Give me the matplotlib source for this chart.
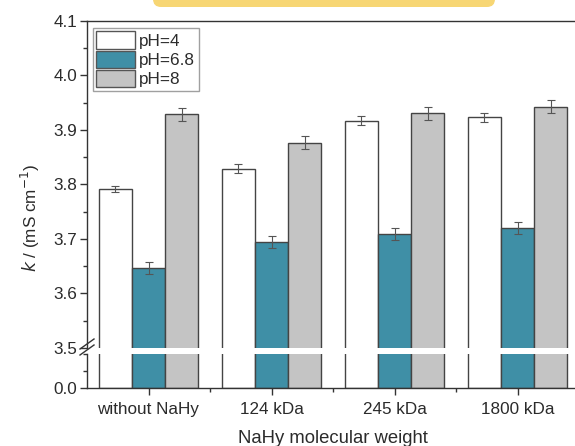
import matplotlib
matplotlib.use("Agg")
import matplotlib.pyplot as plt
import numpy as np
from matplotlib.patches import FancyBboxPatch, Patch
from matplotlib.lines import Line2D
from matplotlib.ticker import MultipleLocator

plt.rcParams['font.family'] = ['Liberation Sans', 'DejaVu Sans']

# data
groups = ['without NaHy', '124 kDa', '245 kDa', '1800 kDa']
series = ['pH=4', 'pH=6.8', 'pH=8']
ph4 = [3.792, 3.829, 3.917, 3.923]
ph68 = [3.647, 3.695, 3.710, 3.720]
ph8 = [3.929, 3.877, 3.931, 3.943]
err4 = [0.006, 0.008, 0.008, 0.008]
err68 = [0.011, 0.011, 0.011, 0.011]
err8 = [0.012, 0.012, 0.012, 0.012]

colors = ['#ffffff', '#3f8fa6', '#c4c4c4']
edge = '#444444'
txt = '#2b2b2b'
W, H = 575, 446
fs = 12.3

fig = plt.figure(figsize=(W / 100, H / 100), dpi=100)
left, right = 87 / W, 579 / W
ax_top = fig.add_axes([left, (H - 348) / H, right - left, (348 - 21) / H])
ax_bot = fig.add_axes([left, (H - 388) / H, right - left, (388 - 354) / H])

x = np.arange(len(groups))
bw = 0.27
vals = [ph4, ph68, ph8]
errs = [err4, err68, err8]
for ax in (ax_top, ax_bot):
    for i, (v, e) in enumerate(zip(vals, errs)):
        ax.bar(x + (i - 1) * bw, v, bw, color=colors[i], edgecolor=edge, lw=1.0,
               zorder=2)
        if ax is ax_top:
            ax.errorbar(x + (i - 1) * bw, v, yerr=e, fmt='none', ecolor='#555555',
                        elinewidth=0.8, capsize=3, capthick=0.8, zorder=3)
    ax.set_xlim(-0.5, 3.5)
    ax.spines['right'].set_visible(False)
    for s in ax.spines.values():
        s.set_color('#333333')
        s.set_linewidth(1.0)

ax_top.set_ylim(3.5, 4.1)
ax_top.spines['bottom'].set_visible(False)
ax_top.yaxis.set_minor_locator(MultipleLocator(0.05))
ax_top.set_yticks([3.5, 3.6, 3.7, 3.8, 3.9, 4.0, 4.1])
ax_top.set_yticklabels(['3.5', '3.6', '3.7', '3.8', '3.9', '4.0', '4.1'])
ax_top.tick_params(axis='x', bottom=False, labelbottom=False)
ax_top.tick_params(axis='y', which='major', length=5, width=1, color='#333333',
                   labelsize=fs, labelcolor=txt, pad=2)
ax_top.tick_params(axis='y', which='minor', length=3, width=1, color='#333333')

ax_bot.set_ylim(0, 1)
ax_bot.spines['top'].set_visible(False)
ax_bot.set_yticks([0.0])
ax_bot.set_yticklabels(['0.0'])
ax_bot.yaxis.set_minor_locator(MultipleLocator(0.5))
ax_bot.set_xticks(x)
ax_bot.set_xticklabels(groups)
ax_bot.set_xticks([0.5, 1.5, 2.5], minor=True)
ax_bot.tick_params(axis='both', which='major', length=5, width=1, color='#333333',
                   labelsize=fs, labelcolor=txt, pad=2)
ax_bot.tick_params(axis='both', which='minor', length=3, width=1, color='#333333')
ax_bot.tick_params(axis='x', pad=5)

# break marks on the left axis
for dy in (0, 6):
    fig.add_artist(Line2D([80 / W, 94 / W], [(H - 355 - dy + 6) / H, (H - 345 - dy + 6) / H],
                          transform=fig.transFigure, color='#333333', lw=1.0))

fig.text(30 / W, (H - 218) / H, r'$k$ / (mS cm$^{-1}$)', rotation=90,
         ha='center', va='center', fontsize=12.3, color=txt)
fig.text((87 + 579) / 2 / W, (H - 430) / H, 'NaHy molecular weight',
         ha='center', va='top', fontsize=13.3, color=txt)

handles = [Patch(facecolor=c, edgecolor='#555555', lw=1.0) for c in colors]
leg = ax_top.legend(handles, series, loc='upper left',
                    bbox_to_anchor=((93 - 87) / (579 - 87), (348 - 28) / (348 - 21)),
                    fontsize=fs, handlelength=2.25, handleheight=1.2,
                    labelspacing=0.1, handletextpad=0.25, borderpad=0.2,
                    borderaxespad=0, fancybox=False, frameon=True)
leg.get_frame().set_edgecolor('#888888')
leg.get_frame().set_linewidth(1.0)
for t in leg.get_texts():
    t.set_color(txt)

# yellow banner at the very top
fig.add_artist(FancyBboxPatch((161, 447), 326, 20, boxstyle='round,pad=8',
                              transform=None, facecolor='#f7d674', edgecolor='none'))

fig.savefig('out.png', dpi=100)
